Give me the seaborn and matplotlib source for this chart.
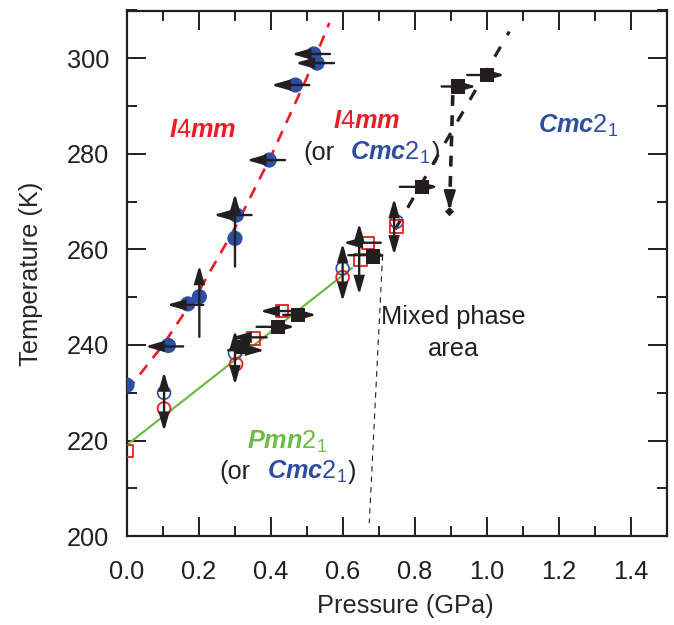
import numpy as np
import pandas as pd
import matplotlib
matplotlib.use("Agg")
import matplotlib.pyplot as plt
from matplotlib.ticker import MultipleLocator
import seaborn as sns

# ---------------- data ----------------
# I4mm phase: filled blue circles
i4mm_P = [0.0, 0.115, 0.169, 0.201, 0.300, 0.304, 0.395, 0.468, 0.519, 0.528]
i4mm_T = [231.6, 239.9, 248.6, 250.1, 262.3, 267.2, 278.7, 294.4, 300.9, 299.0]
# open blue circles
oblue_P = [0.103, 0.300, 0.599, 0.749]
oblue_T = [230.0, 238.3, 256.0, 265.8]
# open red circles
ored_P = [0.103, 0.303, 0.599]
ored_T = [226.7, 236.0, 254.2]
# open red squares
rsq_P = [0.0, 0.351, 0.431, 0.649, 0.670, 0.749]
rsq_T = [217.8, 241.4, 247.1, 257.8, 261.3, 264.8]
# filled black squares
bsq_P = [0.323, 0.420, 0.476, 0.684, 0.819, 0.920, 0.999]
bsq_T = [239.6, 243.8, 246.3, 258.5, 273.1, 294.1, 296.5]

# phase boundaries
red_line_P = [0.0, 0.1, 0.2, 0.3, 0.4, 0.5, 0.562]
red_line_T = [230.4, 240.0, 251.3, 264.5, 279.5, 296.0, 307.4]
green_line_P = [0.0, 0.625]
green_line_T = [219.1, 256.1]
black_line_P = [0.745, 1.062]
black_line_T = [264.2, 305.6]
mixed_line_P = [0.710, 0.673]
mixed_line_T = [258.8, 202.7]

# horizontal arrows: temperature, pressure from -> pressure to
harrow_T = [300.9, 299.0, 294.4, 278.7, 267.2, 248.4, 239.7, 241.6, 247.1,
            261.4, 238.9, 243.8, 246.3, 258.8, 273.1, 294.1, 296.5]
harrow_P0 = [0.564, 0.575, 0.506, 0.439, 0.346, 0.212, 0.156, 0.388, 0.472,
             0.705, 0.281, 0.360, 0.434, 0.615, 0.758, 0.874, 0.945]
harrow_P1 = [0.457, 0.467, 0.400, 0.332, 0.240, 0.110, 0.050, 0.291, 0.369,
             0.600, 0.383, 0.467, 0.527, 0.721, 0.865, 0.971, 1.050]
# vertical single arrows: pressure, T from -> T to
varrow_P = [0.300, 0.201]
varrow_T0 = [256.4, 241.7]
varrow_T1 = [271.7, 256.7]
# double-headed vertical arrows
darrow_P = [0.103, 0.300, 0.599, 0.645, 0.742]
darrow_T0 = [221.9, 231.6, 249.1, 250.5, 258.8]
darrow_T1 = [234.4, 243.1, 261.3, 265.5, 270.7]
# dashed cooling arrow
cool_P = [0.905, 0.896]
cool_T = [292.3, 268.3]

xtick_vals = [0.0, 0.2, 0.4, 0.6, 0.8, 1.0, 1.2, 1.4]
xtick_labels = ["0.0", "0.2", "0.4", "0.6", "0.8", "1.0", "1.2", "1.4"]
ytick_vals = [200, 220, 240, 260, 280, 300]
ytick_labels = ["200", "220", "240", "260", "280", "300"]

# ---------------- style ----------------
RED = "#ed1c24"
BLUE = "#2e4ea1"
GREEN = "#6cbd45"
BLACK = "#231f20"

sns.set_theme(style="ticks")
plt.rcParams["font.family"] = ["Liberation Sans", "DejaVu Sans"]
plt.rcParams["mathtext.fontset"] = "custom"
plt.rcParams["mathtext.rm"] = "Liberation Sans"
plt.rcParams["mathtext.it"] = "Liberation Sans:italic"
plt.rcParams["mathtext.bf"] = "Liberation Sans:italic:bold"
plt.rcParams["mathtext.sf"] = "Liberation Sans"
plt.rcParams["axes.edgecolor"] = BLACK
plt.rcParams["text.color"] = BLACK

FS = 18.3

fig = plt.figure(figsize=(6.74, 6.25), dpi=100)
ax = fig.add_axes([0.1884, 0.1422, 0.8012, 0.841])

# ---------------- lines ----------------
sns.lineplot(x=red_line_P, y=red_line_T, ax=ax, color=RED, lw=1.9,
             linestyle=(0, (4.5, 3.4)), estimator=None, sort=False, zorder=2)
sns.lineplot(x=green_line_P, y=green_line_T, ax=ax, color=GREEN, lw=1.6,
             estimator=None, sort=False, zorder=2)
sns.lineplot(x=black_line_P, y=black_line_T, ax=ax, color=BLACK, lw=2.3,
             linestyle=(0, (3.6, 4.2)), estimator=None, sort=False, zorder=2)
sns.lineplot(x=mixed_line_P, y=mixed_line_T, ax=ax, color=BLACK, lw=0.8,
             linestyle=(0, (5, 4.5)), estimator=None, sort=False, zorder=2)

# ---------------- markers ----------------
sns.scatterplot(x=i4mm_P, y=i4mm_T, ax=ax, color=BLUE, s=120, marker="o",
                edgecolor="none", zorder=3)
sns.scatterplot(x=oblue_P, y=oblue_T, ax=ax, marker="o", s=85,
                facecolor="none", edgecolor=BLUE, linewidth=1.2, zorder=3)
sns.scatterplot(x=ored_P, y=ored_T, ax=ax, marker="o", s=85,
                facecolor="none", edgecolor=RED, linewidth=1.3, zorder=3)
sns.scatterplot(x=rsq_P, y=rsq_T, ax=ax, marker="s", s=80,
                facecolor="none", edgecolor=RED, linewidth=1.3, zorder=3)
sns.scatterplot(x=bsq_P, y=bsq_T, ax=ax, marker="s", s=105, color=BLACK,
                edgecolor="none", zorder=4)

# ---------------- arrows ----------------
head = "-|>,head_length=1.05,head_width=0.3"
dhead = "<|-|>,head_length=1.05,head_width=0.3"
aprops = dict(arrowstyle=head, color=BLACK, lw=1.7, mutation_scale=10,
              shrinkA=0, shrinkB=0, joinstyle="miter")
dprops = dict(arrowstyle=dhead, color=BLACK, lw=1.7, mutation_scale=10,
              shrinkA=0, shrinkB=0, joinstyle="miter")
for t, p0, p1 in zip(harrow_T, harrow_P0, harrow_P1):
    ax.annotate("", xy=(p1, t), xytext=(p0, t), arrowprops=aprops, zorder=5)
for p, t0, t1 in zip(varrow_P, varrow_T0, varrow_T1):
    ax.annotate("", xy=(p, t1), xytext=(p, t0), arrowprops=aprops, zorder=5)
for p, t0, t1 in zip(darrow_P, darrow_T0, darrow_T1):
    ax.annotate("", xy=(p, t1), xytext=(p, t0), arrowprops=dprops, zorder=5)

# dashed cooling arrow with diamond tip
sns.lineplot(x=cool_P, y=cool_T, ax=ax, color=BLACK, lw=2.6,
             linestyle=(0, (3.0, 2.6)), estimator=None, sort=False, zorder=4)
ax.annotate("", xy=(cool_P[1], cool_T[1]),
            xytext=(cool_P[1] + 0.0005, cool_T[1] + 3.5),
            arrowprops=dict(arrowstyle="-|>,head_length=1.1,head_width=0.35",
                            color=BLACK, lw=1.8, mutation_scale=10,
                            shrinkA=0, shrinkB=0), zorder=5)
sns.scatterplot(x=[cool_P[1]], y=[cool_T[1] - 0.4], ax=ax, marker="D", s=22,
                color=BLACK, edgecolor="none", zorder=5)

# ---------------- axes ----------------
ax.set_xlim(0, 1.5)
ax.set_ylim(200, 310)
ax.set_xticks(xtick_vals)
ax.set_xticklabels(xtick_labels, fontsize=FS)
ax.set_yticks(ytick_vals)
ax.set_yticklabels(ytick_labels, fontsize=FS)
ax.xaxis.set_minor_locator(MultipleLocator(0.1))
ax.yaxis.set_minor_locator(MultipleLocator(10))
ax.tick_params(which="both", direction="in", top=True, right=True,
               color=BLACK, width=1.4, labelcolor=BLACK)
ax.tick_params(which="major", length=14)
ax.tick_params(axis="x", which="major", pad=17)
ax.tick_params(axis="y", which="major", pad=13)
ax.tick_params(which="minor", length=7)
for sp in ax.spines.values():
    sp.set_linewidth(1.6)
    sp.set_color(BLACK)
    sp.set_visible(True)

ax.set_xlabel("Pressure (GPa)", fontsize=FS)
ax.set_ylabel("Temperature (K)", fontsize=FS)
ax.xaxis.set_label_coords(0.515, -0.11)
ax.yaxis.set_label_coords(-0.155, 0.5)

# ---------------- region labels ----------------
ax.text(0.21, 285.0, r"$\mathbf{I}\mathrm{4}\mathbf{mm}$", color=RED,
        fontsize=FS, ha="center", va="center")
ax.text(0.667, 286.9, r"$\mathbf{I}\mathrm{4}\mathbf{mm}$", color=RED,
        fontsize=FS, ha="center", va="center")
ax.text(1.143, 284.4, r"$\mathbf{Cmc}\mathrm{2}_\mathrm{1}$", color=BLUE,
        fontsize=FS, ha="left", va="baseline")
ax.text(0.333, 218.2, r"$\mathbf{Pmn}\mathrm{2}_\mathrm{1}$", color=GREEN,
        fontsize=FS, ha="left", va="baseline")
ax.text(0.906, 242.5, "Mixed phase\narea", color=BLACK, fontsize=FS,
        ha="center", va="center", linespacing=1.45)

fig.canvas.draw()
renderer = fig.canvas.get_renderer()


def text_row(x, y, parts):
    xd, yd = ax.transData.transform((x, y))
    for s, col, gap in parts:
        xd += gap
        xx, yy = ax.transData.inverted().transform((xd, yd))
        t = ax.text(xx, yy, s, color=col, fontsize=FS, ha="left",
                    va="baseline")
        xd = t.get_window_extent(renderer=renderer).x1


cmc = r"$\mathbf{Cmc}\mathrm{2}_\mathrm{1}$"
text_row(0.489, 278.7, [("(or", BLACK, 0), (cmc, BLUE, 16), (")", BLACK, 1)])
text_row(0.258, 211.9, [("(or", BLACK, 0), (cmc, BLUE, 16), (")", BLACK, 1)])

fig.savefig("out.png", dpi=100)
